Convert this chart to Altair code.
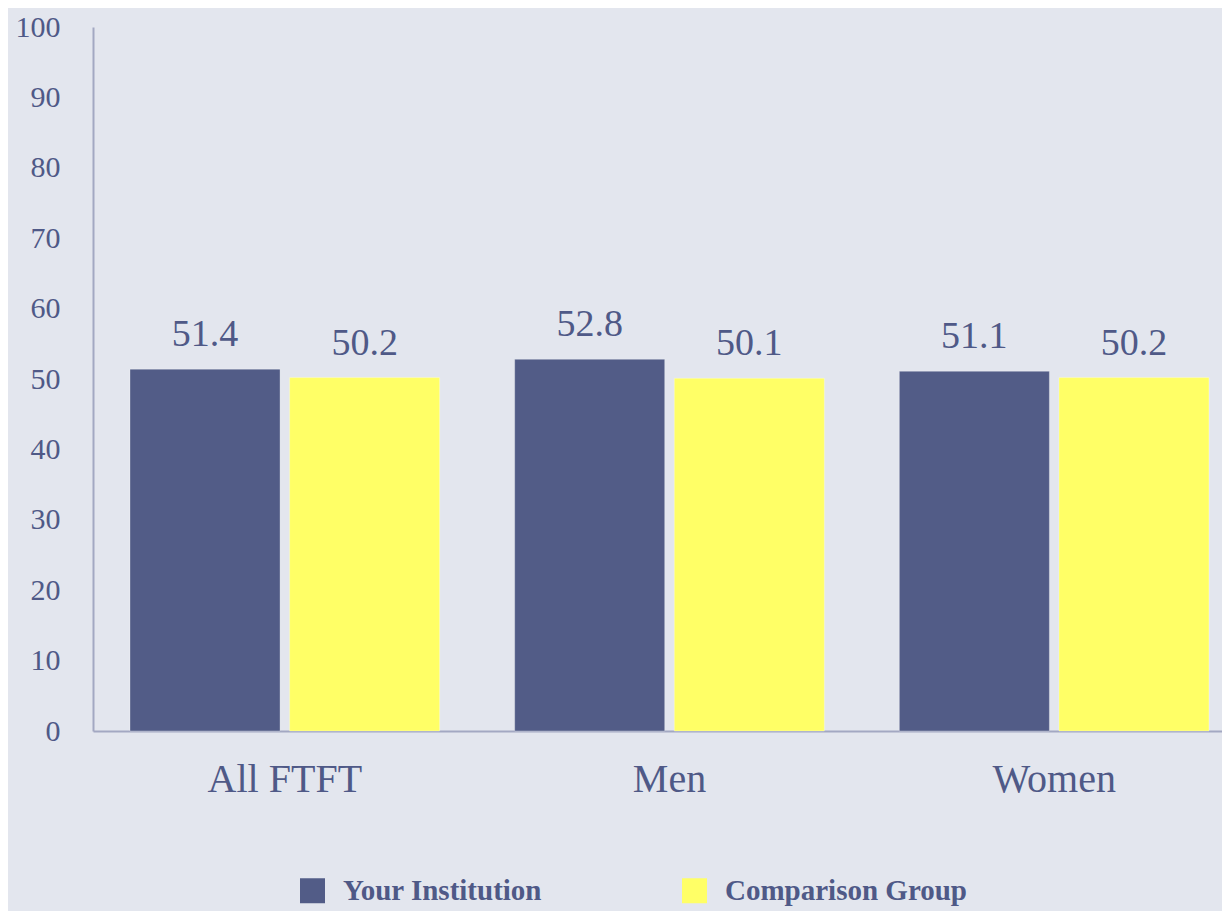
import altair as alt
import pandas as pd

categories = ["All FTFT", "Men", "Women"]
series = ["Your Institution", "Comparison Group"]
your_institution = [51.4, 52.8, 51.1]
comparison_group = [50.2, 50.1, 50.2]
y_ticks = [0, 10, 20, 30, 40, 50, 60, 70, 80, 90, 100]

rows = []
for i, c in enumerate(categories):
    rows.append({"cat": c, "series": series[0], "value": your_institution[i]})
    rows.append({"cat": c, "series": series[1], "value": comparison_group[i]})
df = pd.DataFrame(rows)

FONT = "Liberation Serif"
TXT = "#4F5987"
AXIS = "#A3A8C2"
BG = "#E3E6EE"

x = alt.X("cat:N", sort=categories, title=None,
          scale=alt.Scale(paddingInner=0.195, paddingOuter=0.065, align=0.74),
          axis=alt.Axis(labelAngle=0, labelFont=FONT, labelFontSize=40, labelColor=TXT,
                        labelPadding=28, ticks=False, domainColor=AXIS, domainWidth=2))
xo = alt.XOffset("series:N", sort=series, scale=alt.Scale(paddingInner=0.06))
y = alt.Y("value:Q", title=None,
          scale=alt.Scale(domain=[0, 100], nice=False),
          axis=alt.Axis(values=y_ticks, grid=False, ticks=False, labelFont=FONT,
                        labelFontSize=30, labelColor=TXT, labelPadding=33,
                        domainColor=AXIS, domainWidth=2))

bars = alt.Chart(df).mark_bar(stroke="#FFFFFF", strokeWidth=0.6, strokeOpacity=0.5).encode(
    x=x, xOffset=xo, y=y,
    color=alt.Color("series:N", sort=series,
                    scale=alt.Scale(domain=series, range=["#525C87", "#FFFF66"]),
                    legend=alt.Legend(title=None, orient="none", legendX=205, legendY=849,
                                      direction="horizontal", symbolType="square",
                                      symbolSize=625, symbolStrokeWidth=0,
                                      labelFont=FONT, labelFontSize=29, labelFontWeight="bold",
                                      labelColor=TXT, columnPadding=137, labelOffset=16,
                                      labelLimit=400)),
)

labels = alt.Chart(df).mark_text(font=FONT, fontSize=38, color=TXT, baseline="bottom", dy=-15).encode(
    x=x, xOffset=xo, y=y, text=alt.Text("value:Q", format=".1f")
)

chart = alt.layer(bars, labels).properties(
    width=1129, height=704, background=BG,
    padding={"left": 85, "top": 19, "right": 0, "bottom": 180},
    autosize=alt.AutoSizeParams(type="none"),
).configure_view(stroke=None)

chart.save("out.html", embed_options={"renderer": "svg", "actions": False})
